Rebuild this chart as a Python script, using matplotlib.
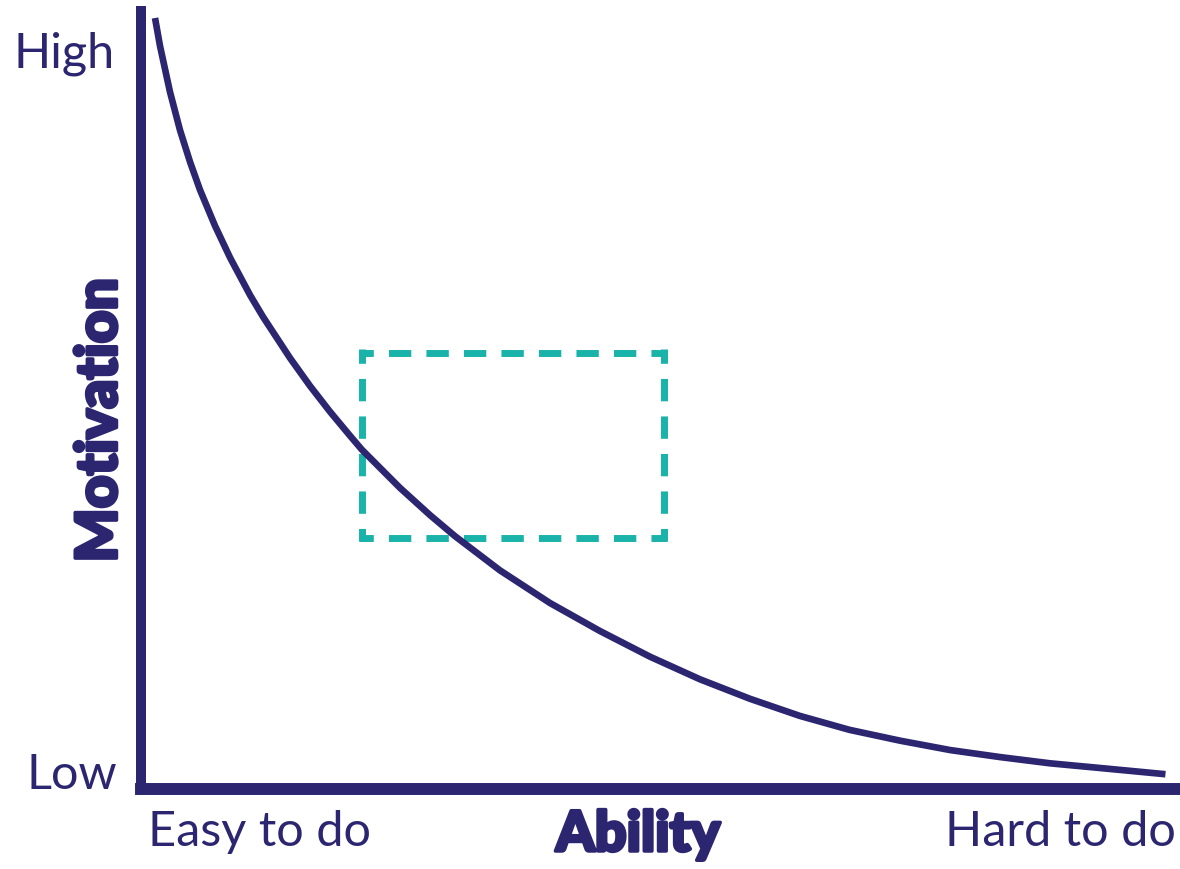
import matplotlib
matplotlib.use("Agg")
import matplotlib.pyplot as plt
import matplotlib.patheffects as pe

NAVY = "#2C2671"
TEAL = "#1AB3A9"

# Curve (ability 0-100 -> motivation 0-100)
curve_ability = [1.35, 1.83, 2.79, 3.75, 4.72, 5.68, 7.12, 8.57, 10.49, 11.74, 14.34,
                 16.27, 18.19, 20.12, 21.27, 24.93, 27.82, 30.22, 34.55, 39.37, 44.18,
                 49.0, 53.8, 58.6, 63.4, 68.2, 73.1, 77.9, 82.7, 87.5, 92.3, 98.6]
curve_motivation = [99.1, 95.5, 89.6, 84.7, 80.6, 77.0, 72.4, 68.3, 63.5, 60.7, 55.4,
                    51.8, 48.5, 45.4, 43.6, 38.7, 35.2, 32.5, 28.1, 23.9, 20.3,
                    17.0, 14.1, 11.6, 9.4, 7.6, 6.2, 5.0, 4.1, 3.3, 2.7, 1.9]

# Dashed target box (ability / motivation ranges)
box_ability = [21.3, 50.3]
box_motivation = [32.3, 56.1]

y_labels = ["Low", "High"]
x_labels = ["Easy to do", "Hard to do"]
x_title = "Ability"
y_title = "Motivation"

plt.rcParams["lines.scale_dashes"] = False

W, H, DPI = 1180, 869, 100
fig = plt.figure(figsize=(W / DPI, H / DPI), dpi=DPI)
ax = fig.add_axes([141 / W, (H - 789) / H, 1 - 141 / W, (789 - 11) / H])
ax.set_xlim(0, 100)
ax.set_ylim(0, 100)
ax.set_xticks([])
ax.set_yticks([])
for s in ["top", "right"]:
    ax.spines[s].set_visible(False)
ax.spines["left"].set_linewidth(7.2)
ax.spines["bottom"].set_linewidth(8.6)
for s in ["left", "bottom"]:
    ax.spines[s].set_color(NAVY)
    ax.spines[s].set_capstyle("projecting")
ax.patch.set_alpha(0)

ax.plot(curve_ability, curve_motivation, color=NAVY, lw=4.8,
        solid_capstyle="butt", solid_joinstyle="round", clip_on=False, zorder=3)

# dashed box, drawn side by side so each corner gets an L-shaped piece
x0, x1 = box_ability
y0, y1 = box_motivation
lw_box = 5.0
dash, gap = 16.1, 10.9
first = 10.3
ls = (dash - first, (dash, gap))
ext_x = 3.5 / 10.39
ext_y = 3.5 / 7.78
sides = [
    ([x0 - ext_x, x1 + ext_x], [y1, y1]),
    ([x0 - ext_x, x1 + ext_x], [y0, y0]),
    ([x0, x0], [y1 + ext_y, y0 - ext_y]),
    ([x1, x1], [y1 + ext_y, y0 - ext_y]),
]
for xs, ys in sides:
    ax.plot(xs, ys, color=TEAL, lw=lw_box, linestyle=ls, dash_capstyle="butt", zorder=2)

light = dict(family=["Lato", "DejaVu Sans"], color=NAVY, fontsize=35, fontweight="normal")
fig.text(115 / W, (H - 68) / H, y_labels[1], ha="right", va="baseline", **light)
fig.text(117 / W, (H - 789) / H, y_labels[0], ha="right", va="baseline", **light)
fig.text(148 / W, (H - 846) / H, x_labels[0], ha="left", va="baseline", **light)
fig.text(1176 / W, (H - 846) / H, x_labels[1], ha="right", va="baseline", **light)

heavy = [pe.withStroke(linewidth=2.5, foreground=NAVY)]
bold = dict(family=["Lato", "DejaVu Sans"], color=NAVY, fontweight="black",
            path_effects=heavy)
fig.text(638 / W, (H - 851) / H, x_title, ha="center", va="baseline", fontsize=40, **bold)
fig.text(100 / W, (H - 420) / H, y_title, ha="center", va="center", rotation=90,
         fontsize=41, **bold)

fig.savefig("out.png", dpi=DPI)
